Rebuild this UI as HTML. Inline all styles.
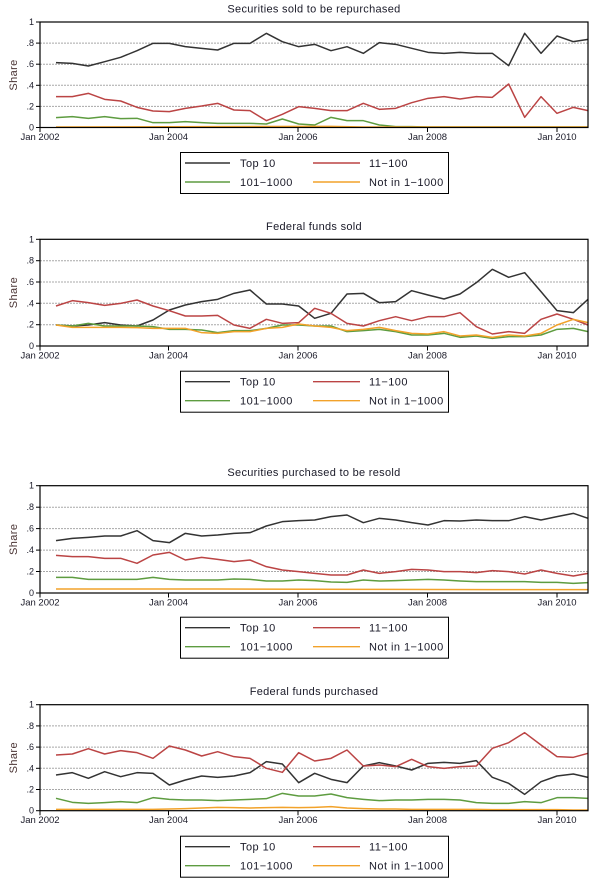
<!DOCTYPE html>
<html><head><meta charset="utf-8"><style>
html,body{margin:0;padding:0;background:#fff;}
svg{display:block;font-family:"Liberation Sans",Arial,sans-serif;}
.t{font-size:11px;letter-spacing:0.3px;fill:#1a1a28;text-anchor:middle;}
.yl{font-size:9px;fill:#1a1a28;text-anchor:end;}
.xl{font-size:9.5px;fill:#1a1a28;text-anchor:middle;}
.sh{font-size:11px;letter-spacing:0.4px;fill:#4a3434;text-anchor:middle;}
.lg{font-size:11px;letter-spacing:0.45px;fill:#1a1a28;}
.g{stroke:#a8a8a8;stroke-width:1;stroke-dasharray:2 1;}
.s{fill:none;stroke-width:1.5;stroke-linejoin:round;vector-effect:non-scaling-stroke;}
.k{stroke:#333;} .r{stroke:#bb4444;} .gr{stroke:#5e9c40;} .o{stroke:#f2a22a;}
</style></head><body>
<svg width="600" height="890" viewBox="0 0 600 890" xmlns="http://www.w3.org/2000/svg">
<defs>
<g id="legend">
<rect x="180.5" y="0.5" width="268" height="41" fill="#fff" stroke="#000" stroke-width="1"/>
<line x1="185" y1="11" x2="230" y2="11" stroke="#333" stroke-width="1.4"/>
<text class="lg" x="240" y="15">Top 10</text>
<line x1="313" y1="11" x2="360" y2="11" stroke="#bb4444" stroke-width="1.4"/>
<text class="lg" x="369" y="15">11−100</text>
<line x1="185" y1="30" x2="230" y2="30" stroke="#5e9c40" stroke-width="1.4"/>
<text class="lg" x="240" y="34">101−1000</text>
<line x1="313" y1="30" x2="360" y2="30" stroke="#f2a22a" stroke-width="1.4"/>
<text class="lg" x="369" y="34">Not in 1−1000</text>
</g>
</defs>

<!-- ================= PANEL 1 ================= -->
<text class="t" x="314" y="12.5">Securities sold to be repurchased</text>
<g>
<line class="g" x1="40" x2="588" y1="43.1" y2="43.1"/>
<line class="g" x1="40" x2="588" y1="64.2" y2="64.2"/>
<line class="g" x1="40" x2="588" y1="85.3" y2="85.3"/>
<line class="g" x1="40" x2="588" y1="106.4" y2="106.4"/>
</g>
<g transform="translate(0,0) scale(0.3333333)">
<polyline class="s k" points="168,188 217,190 265,198 314,185 362,172 411,152 459,130 508,130 556,140 605,145 653,150 702,130 750,130 799,100 847,125 896,140 944,133 993,152 1041,140 1090,160 1138,128 1187,133 1235,145 1284,157 1332,160 1380,157 1429,160 1477,160 1526,197 1574,100 1623,160 1671,108 1720,125 1764,118"/>
<polyline class="s r" points="168,290 217,290 265,280 314,298 362,303 411,322 459,333 508,335 556,325 605,318 653,310 702,330 750,332 799,362 847,343 896,320 944,325 993,332 1041,332 1090,310 1138,328 1187,325 1235,308 1284,295 1332,290 1380,297 1429,290 1477,292 1526,252 1574,352 1623,290 1671,340 1720,322 1764,332"/>
<polyline class="s gr" points="168,353 217,350 265,355 314,350 362,356 411,355 459,368 508,368 556,365 605,368 653,370 702,370 750,370 799,372 847,357 896,372 944,375 993,352 1041,362 1090,362 1138,375 1187,380 1235,380 1284,381 1332,381 1380,381 1429,381 1477,381 1526,381 1574,381 1623,381 1671,381 1720,381 1764,381"/>
<polyline class="s o" points="168,381 993,379 1090,381 1764,381"/>
</g>
<rect x="40" y="22" width="548" height="105.5" fill="none" stroke="#000" stroke-width="1.2"/>
<g stroke="#000" stroke-width="1">
<line x1="36" x2="40" y1="22" y2="22"/><line x1="36" x2="40" y1="43.1" y2="43.1"/><line x1="36" x2="40" y1="64.2" y2="64.2"/><line x1="36" x2="40" y1="85.3" y2="85.3"/><line x1="36" x2="40" y1="106.4" y2="106.4"/><line x1="36" x2="40" y1="127.5" y2="127.5"/>
<line x1="40" x2="40" y1="127.5" y2="132"/><line x1="168.5" x2="168.5" y1="127.5" y2="132"/><line x1="298" x2="298" y1="127.5" y2="132"/><line x1="427.5" x2="427.5" y1="127.5" y2="132"/><line x1="557" x2="557" y1="127.5" y2="132"/>
</g>
<text class="yl" x="34" y="25">1</text><text class="yl" x="34" y="46.1">.8</text><text class="yl" x="34" y="67.2">.6</text><text class="yl" x="34" y="88.3">.4</text><text class="yl" x="34" y="109.4">.2</text><text class="yl" x="34" y="130.5">0</text>
<text class="sh" transform="translate(17,75) rotate(-90)">Share</text>
<text class="xl" x="40" y="140">Jan 2002</text><text class="xl" x="168.5" y="140">Jan 2004</text><text class="xl" x="298" y="140">Jan 2006</text><text class="xl" x="427.5" y="140">Jan 2008</text><text class="xl" x="557" y="140">Jan 2010</text>
<use href="#legend" transform="translate(0,152)"/>

<!-- ================= PANEL 2 ================= -->
<text class="t" x="314" y="229.8">Federal funds sold</text>
<g>
<line class="g" x1="40" x2="588" y1="260.7" y2="260.7"/>
<line class="g" x1="40" x2="588" y1="282" y2="282"/>
<line class="g" x1="40" x2="588" y1="303.3" y2="303.3"/>
<line class="g" x1="40" x2="588" y1="324.7" y2="324.7"/>
</g>
<g transform="translate(0,200) scale(0.3333333)">
<polyline class="s k" points="168,375 217,378 265,375 314,368 362,375 411,378 459,360 508,330 556,315 605,305 653,298 702,280 750,270 799,312 847,312 896,318 944,355 993,340 1041,282 1090,280 1138,308 1187,305 1235,272 1284,285 1332,297 1380,282 1429,248 1477,208 1526,232 1574,218 1623,275 1671,332 1720,338 1764,298"/>
<polyline class="s r" points="168,318 217,302 265,308 314,316 362,310 411,300 459,318 508,332 556,348 605,348 653,346 702,375 750,385 799,358 847,370 896,368 944,325 993,340 1041,370 1090,378 1138,362 1187,350 1235,362 1284,350 1332,350 1380,338 1429,380 1477,402 1526,395 1574,400 1623,358 1671,342 1720,358 1764,375"/>
<polyline class="s gr" points="168,375 217,378 265,370 314,378 362,378 411,378 459,380 508,388 556,388 605,390 653,398 702,392 750,392 799,385 847,375 896,375 944,378 993,378 1041,395 1090,392 1138,388 1187,395 1235,405 1284,405 1332,400 1380,412 1429,408 1477,415 1526,410 1574,410 1623,405 1671,388 1720,385 1764,395"/>
<polyline class="s o" points="168,375 217,382 265,382 314,382 362,382 411,383 459,385 508,385 556,385 605,398 653,400 702,395 750,395 799,385 847,382 896,372 944,378 993,382 1041,392 1090,388 1138,382 1187,392 1235,400 1284,402 1332,395 1380,408 1429,405 1477,412 1526,405 1574,408 1623,400 1671,375 1720,358 1764,368"/>
</g>
<rect x="40" y="239.3" width="548" height="106.7" fill="none" stroke="#000" stroke-width="1.2"/>
<g stroke="#000" stroke-width="1">
<line x1="36" x2="40" y1="239.3" y2="239.3"/><line x1="36" x2="40" y1="260.7" y2="260.7"/><line x1="36" x2="40" y1="282" y2="282"/><line x1="36" x2="40" y1="303.3" y2="303.3"/><line x1="36" x2="40" y1="324.7" y2="324.7"/><line x1="36" x2="40" y1="346" y2="346"/>
<line x1="40" x2="40" y1="346" y2="350.5"/><line x1="168.5" x2="168.5" y1="346" y2="350.5"/><line x1="298" x2="298" y1="346" y2="350.5"/><line x1="427.5" x2="427.5" y1="346" y2="350.5"/><line x1="557" x2="557" y1="346" y2="350.5"/>
</g>
<text class="yl" x="34" y="242.3">1</text><text class="yl" x="34" y="263.7">.8</text><text class="yl" x="34" y="285">.6</text><text class="yl" x="34" y="306.3">.4</text><text class="yl" x="34" y="327.7">.2</text><text class="yl" x="34" y="349">0</text>
<text class="sh" transform="translate(17,292.6) rotate(-90)">Share</text>
<text class="xl" x="40" y="358.5">Jan 2002</text><text class="xl" x="168.5" y="358.5">Jan 2004</text><text class="xl" x="298" y="358.5">Jan 2006</text><text class="xl" x="427.5" y="358.5">Jan 2008</text><text class="xl" x="557" y="358.5">Jan 2010</text>
<use href="#legend" transform="translate(0,370.7)"/>

<!-- ================= PANEL 3 ================= -->
<text class="t" x="314" y="476.2">Securities purchased to be resold</text>
<g>
<line class="g" x1="40" x2="588" y1="507.2" y2="507.2"/>
<line class="g" x1="40" x2="588" y1="528.6" y2="528.6"/>
<line class="g" x1="40" x2="588" y1="550.1" y2="550.1"/>
<line class="g" x1="40" x2="588" y1="571.5" y2="571.5"/>
</g>
<g transform="translate(0,450) scale(0.3333333)">
<polyline class="s k" points="168,272 217,265 265,262 314,258 362,258 411,242 459,272 508,278 556,250 605,258 653,255 702,250 750,248 799,228 847,215 896,212 944,210 993,200 1041,195 1090,218 1138,205 1187,210 1235,218 1284,225 1332,212 1380,213 1429,210 1477,212 1526,212 1574,200 1623,210 1671,200 1720,190 1764,205"/>
<polyline class="s r" points="168,316 217,320 265,320 314,325 362,325 411,340 459,315 508,307 556,330 605,322 653,328 702,335 750,330 799,350 847,360 896,365 944,370 993,375 1041,375 1090,360 1138,370 1187,365 1235,358 1284,360 1332,365 1380,365 1429,368 1477,362 1526,365 1574,372 1623,360 1671,370 1720,378 1764,370"/>
<polyline class="s gr" points="168,382 217,382 265,388 314,388 362,388 411,388 459,382 508,388 556,390 605,390 653,390 702,387 750,388 799,393 847,393 896,390 944,392 993,396 1041,397 1090,390 1138,393 1187,392 1235,390 1284,388 1332,390 1380,393 1429,395 1477,395 1526,395 1574,395 1623,397 1671,397 1720,400 1764,398"/>
<polyline class="s o" points="168,417 653,417 1090,418 1477,419 1764,419"/>
</g>
<rect x="40" y="485.7" width="548" height="107.3" fill="none" stroke="#000" stroke-width="1.2"/>
<g stroke="#000" stroke-width="1">
<line x1="36" x2="40" y1="485.7" y2="485.7"/><line x1="36" x2="40" y1="507.2" y2="507.2"/><line x1="36" x2="40" y1="528.6" y2="528.6"/><line x1="36" x2="40" y1="550.1" y2="550.1"/><line x1="36" x2="40" y1="571.5" y2="571.5"/><line x1="36" x2="40" y1="593" y2="593"/>
<line x1="40" x2="40" y1="593" y2="597.5"/><line x1="168.5" x2="168.5" y1="593" y2="597.5"/><line x1="298" x2="298" y1="593" y2="597.5"/><line x1="427.5" x2="427.5" y1="593" y2="597.5"/><line x1="557" x2="557" y1="593" y2="597.5"/>
</g>
<text class="yl" x="34" y="488.7">1</text><text class="yl" x="34" y="510.2">.8</text><text class="yl" x="34" y="531.6">.6</text><text class="yl" x="34" y="553.1">.4</text><text class="yl" x="34" y="574.5">.2</text><text class="yl" x="34" y="596">0</text>
<text class="sh" transform="translate(17,539.3) rotate(-90)">Share</text>
<text class="xl" x="40" y="605.5">Jan 2002</text><text class="xl" x="168.5" y="605.5">Jan 2004</text><text class="xl" x="298" y="605.5">Jan 2006</text><text class="xl" x="427.5" y="605.5">Jan 2008</text><text class="xl" x="557" y="605.5">Jan 2010</text>
<use href="#legend" transform="translate(0,616.7)"/>

<!-- ================= PANEL 4 ================= -->
<text class="t" x="314" y="695.2">Federal funds purchased</text>
<g>
<line class="g" x1="40" x2="588" y1="725.9" y2="725.9"/>
<line class="g" x1="40" x2="588" y1="747.1" y2="747.1"/>
<line class="g" x1="40" x2="588" y1="768.3" y2="768.3"/>
<line class="g" x1="40" x2="588" y1="789.5" y2="789.5"/>
</g>
<g transform="translate(0,670) scale(0.3333333)">
<polyline class="s k" points="168,315 217,308 265,325 314,305 362,320 411,308 459,310 508,345 556,330 605,318 653,322 702,318 750,308 799,275 847,282 896,338 944,310 993,328 1041,338 1090,288 1138,278 1187,288 1235,300 1284,280 1332,277 1380,280 1429,272 1477,322 1526,340 1574,373 1623,335 1671,318 1720,312 1764,322"/>
<polyline class="s r" points="168,255 217,252 265,236 314,252 362,242 411,248 459,265 508,228 556,240 605,258 653,245 702,260 750,265 799,295 847,307 896,248 944,273 993,265 1041,240 1090,288 1138,285 1187,290 1235,268 1284,290 1332,295 1380,290 1429,288 1477,235 1526,218 1574,188 1623,225 1671,260 1720,262 1764,250"/>
<polyline class="s gr" points="168,385 217,397 265,400 314,398 362,395 411,398 459,383 508,388 556,390 605,390 653,392 702,390 750,388 799,386 847,370 896,378 944,378 993,372 1041,383 1090,388 1138,392 1187,390 1235,390 1284,388 1332,388 1380,390 1429,398 1477,400 1526,400 1574,395 1623,398 1671,383 1720,383 1764,385"/>
<polyline class="s o" points="168,418 217,418 265,418 314,418 362,418 411,418 459,418 508,417 556,416 605,414 653,412 702,413 750,414 799,413 847,412 896,413 944,412 993,410 1041,414 1090,416 1138,417 1187,417 1235,418 1284,418 1332,418 1380,418 1429,418 1477,419 1526,419 1574,419 1623,419 1671,419 1720,420 1764,420"/>
</g>
<rect x="40" y="704.7" width="548" height="106" fill="none" stroke="#000" stroke-width="1.2"/>
<g stroke="#000" stroke-width="1">
<line x1="36" x2="40" y1="704.7" y2="704.7"/><line x1="36" x2="40" y1="725.9" y2="725.9"/><line x1="36" x2="40" y1="747.1" y2="747.1"/><line x1="36" x2="40" y1="768.3" y2="768.3"/><line x1="36" x2="40" y1="789.5" y2="789.5"/><line x1="36" x2="40" y1="810.7" y2="810.7"/>
<line x1="40" x2="40" y1="810.7" y2="815.2"/><line x1="168.5" x2="168.5" y1="810.7" y2="815.2"/><line x1="298" x2="298" y1="810.7" y2="815.2"/><line x1="427.5" x2="427.5" y1="810.7" y2="815.2"/><line x1="557" x2="557" y1="810.7" y2="815.2"/>
</g>
<text class="yl" x="34" y="707.7">1</text><text class="yl" x="34" y="728.9">.8</text><text class="yl" x="34" y="750.1">.6</text><text class="yl" x="34" y="771.3">.4</text><text class="yl" x="34" y="792.5">.2</text><text class="yl" x="34" y="813.7">0</text>
<text class="sh" transform="translate(17,757.7) rotate(-90)">Share</text>
<text class="xl" x="40" y="823.2">Jan 2002</text><text class="xl" x="168.5" y="823.2">Jan 2004</text><text class="xl" x="298" y="823.2">Jan 2006</text><text class="xl" x="427.5" y="823.2">Jan 2008</text><text class="xl" x="557" y="823.2">Jan 2010</text>
<use href="#legend" transform="translate(0,835.7)"/>
</svg>
</body></html>
